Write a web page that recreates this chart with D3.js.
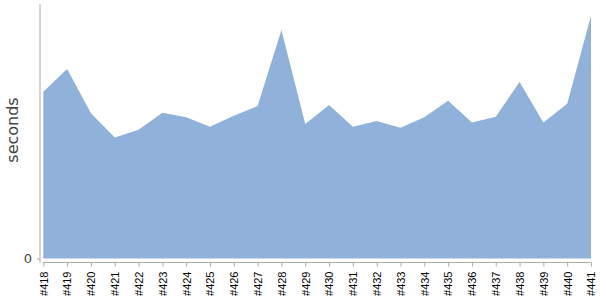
<!DOCTYPE html>
<html><head><meta charset="utf-8">
<script src="https://cdn.jsdelivr.net/npm/d3@7"></script>
<style>
body{margin:0;background:#fff;}
svg{display:block;}
</style></head>
<body>
<svg id="chart" width="600" height="300"></svg>
<script>
const builds = ["#418","#419","#420","#421","#422","#423","#424","#425","#426","#427","#428","#429","#430","#431","#432","#433","#434","#435","#436","#437","#438","#439","#440","#441"];
const seconds = [65.5,74.5,57.1,47.5,50.6,57.3,55.5,51.8,56.1,59.9,89.8,52.8,60.3,51.8,54.0,51.4,55.5,62.0,53.4,55.7,69.4,53.4,60.8,95.4];
const yTicks = [0];

const svg = d3.select("#chart");
const x = d3.scalePoint().domain(builds).range([43.3, 591]);
const y = d3.scaleLinear().domain([0, 100]).range([258.5, 4]);

const data = builds.map((b,i)=>({b, v: seconds[i]}));
const area = d3.area().x(d=>x(d.b)).y0(y(0)).y1(d=>y(d.v));
svg.append("path").datum(data).attr("d", area).attr("fill", "#8fb1da");

// y axis
const yAxis = svg.append("g").attr("transform","translate(40,0)")
  .call(d3.axisLeft(y).tickValues(yTicks).tickSize(3).tickPadding(5));
yAxis.select(".domain").attr("d", "M0,4V262.5").attr("stroke","#aaa");
yAxis.selectAll(".tick line").attr("stroke","#aaa");
yAxis.selectAll(".tick text").attr("font-family","DejaVu Sans").attr("font-size",13).attr("fill","#444");

// x axis
const xAxis = svg.append("g").attr("transform","translate(0,262.5)")
  .call(d3.axisBottom(x).tickSize(4).tickPadding(5));
xAxis.select(".domain").attr("d", `M${x(builds[0])},0H${x(builds[builds.length-1])}`).attr("stroke","#aaa");
xAxis.selectAll(".tick line").attr("stroke","#aaa");
xAxis.selectAll(".tick text")
  .attr("font-family","Liberation Sans").attr("font-size",11).attr("fill","#000")
  .attr("transform","rotate(-90)").attr("text-anchor","end")
  .attr("x",-9).attr("y",0).attr("dy","0.35em");

svg.append("text").attr("transform","translate(18,130) rotate(-90)")
  .attr("text-anchor","middle").attr("font-family","DejaVu Sans").attr("font-size",16)
  .attr("fill","#444").text("seconds");
</script>
</body></html>
